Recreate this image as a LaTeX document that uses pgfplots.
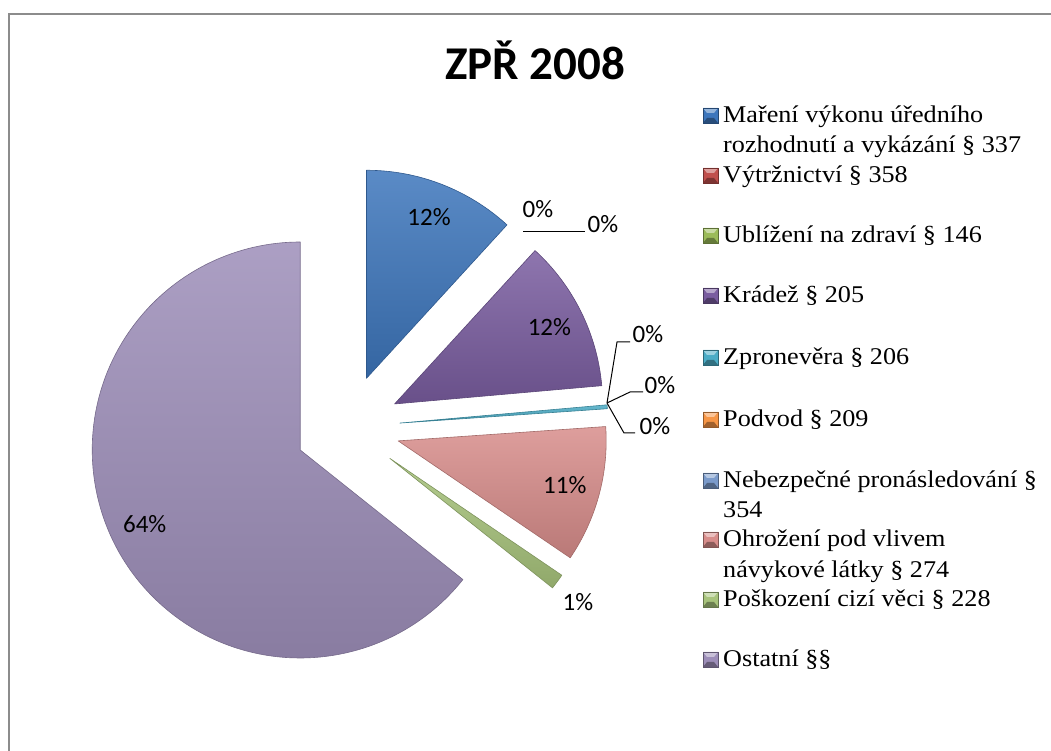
\documentclass[border=0pt]{standalone}
\usepackage{pgfplots}
\pgfplotsset{compat=1.18}
\usepackage{pgfplotstable}
\usepackage{fontspec}
\setmainfont{Liberation Serif}[FakeStretch=1.09]
\newfontfamily\calibri{Carlito}

\definecolor{sc0}{HTML}{3D76BC}
\definecolor{sc1}{HTML}{C0504D}
\definecolor{sc2}{HTML}{9BBB59}
\definecolor{sc3}{HTML}{7A5DA0}
\definecolor{sc4}{HTML}{4BACC6}
\definecolor{sc5}{HTML}{F79646}
\definecolor{sc6}{HTML}{7B9BCB}
\definecolor{sc7}{HTML}{D88D8B}
\definecolor{sc8}{HTML}{A8C47C}
\definecolor{sc9}{HTML}{9D8EB9}
\definecolor{framegray}{HTML}{8C8C8C}

% share of each category (percent); lx, ly = position of outside label (0 = inside)
\pgfplotstableread{
v    lx   ly
11.8 0    0
0    538  210
0    603  225
11.8 0    0
0.3  648  335
0    660  386
0    655  427
10.6 0    0
1.2  578  603
64.3 0    0
}\piedata

\def\pcx{347.5}\def\pcy{323.8}\def\pr{208}\def\pd{52.5}

\gdef\tot{0}
\foreach \i in {0,...,9}{%
  \pgfplotstablegetelem{\i}{v}\of\piedata
  \pgfmathsetmacro\mytmp{\tot+\pgfplotsretval}\xdef\tot{\mytmp}}
\gdef\cum{0}
\foreach \i in {0,...,9}{%
  \pgfplotstablegetelem{\i}{v}\of\piedata \let\myval\pgfplotsretval
  \pgfplotstablegetelem{\i}{lx}\of\piedata \let\mylx\pgfplotsretval
  \pgfplotstablegetelem{\i}{ly}\of\piedata \let\myly\pgfplotsretval
  \pgfmathsetmacro\myfa{\cum/\tot}%
  \pgfmathsetmacro\myfb{(\cum+\myval)/\tot}%
  \pgfmathsetmacro\mysa{90-360*\myfa}%
  \pgfmathsetmacro\myea{90-360*\myfb}%
  \pgfmathsetmacro\myma{(\mysa+\myea)/2}%
  \pgfmathsetmacro\myax{\pcx+\pd*cos(\myma)}%
  \pgfmathsetmacro\myay{\pcy+\pd*sin(\myma)}%
  \pgfmathtruncatemacro\mypct{round(100*\myval/\tot)}%
  \ifdim\mylx pt=0pt
    \pgfmathsetmacro\mytx{\myax+0.83*\pr*cos(\myma)}%
    \pgfmathsetmacro\myty{\myay+0.83*\pr*sin(\myma)-8}%
  \else
    \pgfmathsetmacro\mytx{\mylx}%
    \pgfmathsetmacro\myty{751-\myly-8}%
  \fi
  \expandafter\xdef\csname pv\i\endcsname{\myval}%
  \expandafter\xdef\csname psa\i\endcsname{\mysa}%
  \expandafter\xdef\csname pea\i\endcsname{\myea}%
  \expandafter\xdef\csname pax\i\endcsname{\myax}%
  \expandafter\xdef\csname pay\i\endcsname{\myay}%
  \expandafter\xdef\csname ptx\i\endcsname{\mytx}%
  \expandafter\xdef\csname pty\i\endcsname{\myty}%
  \expandafter\xdef\csname ppct\i\endcsname{\mypct}%
  \pgfmathsetmacro\mync{\cum+\myval}\xdef\cum{\mync}%
}

\newcommand\drawslice[1]{%
  \ifdim\csname pv#1\endcsname pt>0pt
    \shade[top color=sc#1!85!white, bottom color=sc#1!86!black, draw=sc#1!75!black, line width=0.6pt, line join=round]
      (axis cs:\csname pax#1\endcsname,\csname pay#1\endcsname) -- ++(\csname psa#1\endcsname:\pr pt)
      arc[start angle=\csname psa#1\endcsname, end angle=\csname pea#1\endcsname, radius=\pr pt] -- cycle;
  \fi}
\newcommand\drawlabel[1]{%
  \node[font=\calibri\fontsize{25}{30}\selectfont, anchor=base, inner sep=0pt]
    at (axis cs:\csname ptx#1\endcsname,\csname pty#1\endcsname) {\csname ppct#1\endcsname\%};}
\newcommand\legmark[2]{% color index, baseline y
  \fill[sc#1] (axis cs:703,#2) rectangle ++(15pt,15pt);
  \fill[sc#1!55!white] (axis cs:703,#2) ++(0pt,15pt) -- ++(15pt,0pt) -- ++(-4pt,-5pt) -- ++(-7pt,0pt) -- cycle;
  \fill[sc#1!65!black] (axis cs:703,#2) -- ++(15pt,0pt) -- ++(-4pt,5pt) -- ++(-7pt,0pt) -- cycle;
  \draw[sc#1!60!black, line width=0.4pt] (axis cs:703,#2) rectangle ++(15pt,15pt);}
\newcommand\legtext[2]{%
  \node[font=\fontsize{24}{28}\selectfont, anchor=base west, inner sep=0pt] at (axis cs:723,#1) {#2};}

\begin{document}
\begin{tikzpicture}
\begin{axis}[
  scale only axis, width=1051pt, height=751pt,
  xmin=0, xmax=1051, ymin=0, ymax=751,
  hide axis, clip=false]
\path (axis cs:0,0) rectangle (axis cs:1051,751);
\draw[overlay, framegray, line width=2pt] (axis cs:1070,737) -- (axis cs:9,737) -- (axis cs:9,-20);

\drawslice{0}\drawslice{1}\drawslice{2}\drawslice{3}\drawslice{4}
\drawslice{5}\drawslice{6}\drawslice{7}\drawslice{8}\drawslice{9}

\drawlabel{0}\drawlabel{1}\drawlabel{2}\drawlabel{3}\drawlabel{4}
\drawlabel{5}\drawlabel{6}\drawlabel{7}\drawlabel{8}\drawlabel{9}

% leader lines
\draw[black, line width=1pt] (axis cs:523,519) -- (axis cs:585,519);
\draw[black, line width=1pt] (axis cs:607,348) -- (axis cs:617,409) -- (axis cs:630,409);
\draw[black, line width=1pt] (axis cs:607,348) -- (axis cs:630,359) -- (axis cs:643,359);
\draw[black, line width=1pt] (axis cs:607,348) -- (axis cs:624,318) -- (axis cs:635,318);

% title
\node[font=\calibri\bfseries\fontsize{47}{56}\selectfont, anchor=base, inner sep=0pt] at (axis cs:535,671) {ZPŘ 2008};

% legend
\legmark{0}{628}\legtext{628}{Maření výkonu úředního}\legtext{598}{rozhodnutí a vykázání § 337}
\legmark{1}{568}\legtext{568}{Výtržnictví § 358}
\legmark{2}{508}\legtext{508}{Ublížení na zdraví § 146}
\legmark{3}{448}\legtext{448}{Krádež § 205}
\legmark{4}{386}\legtext{386}{Zpronevěra § 206}
\legmark{5}{324}\legtext{324}{Podvod § 209}
\legmark{6}{263}\legtext{263}{Nebezpečné pronásledování §}\legtext{233}{354}
\legmark{7}{204}\legtext{204}{Ohrožení pod vlivem}\legtext{173}{návykové látky § 274}
\legmark{8}{144}\legtext{144}{Poškození cizí věci § 228}
\legmark{9}{84}\legtext{84}{Ostatní §§}
\end{axis}
\end{tikzpicture}
\end{document}
